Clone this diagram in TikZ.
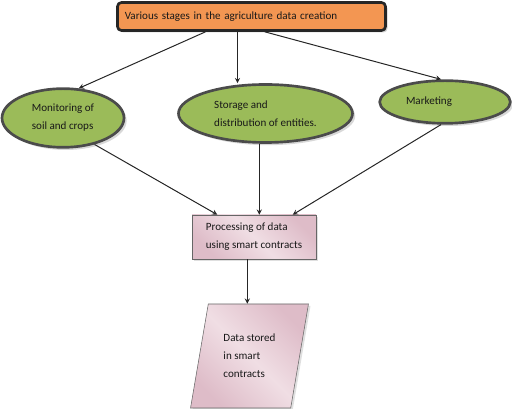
\documentclass[tikz,border=0pt]{standalone}
\usepackage{fontspec}
\setmainfont{Carlito}
\usepackage{xcolor}
\usepackage{tikz}
\usetikzlibrary{shapes.geometric, arrows, positioning, shadows, calc}

\definecolor{stageorange}{RGB}{243,150,82}
\definecolor{olivegreen}{RGB}{155,187,89}
\definecolor{rimgray}{RGB}{75,75,75}
\definecolor{pinklight}{RGB}{240,222,228}
\definecolor{pinkdark}{RGB}{222,188,200}

\begin{document}
\begin{tikzpicture}[
        x=0.75pt, y=-0.75pt,
        font=\fontsize{8.3}{13.5}\selectfont,
        text=black!90,
        stagebox/.style={rectangle, rounded corners=3pt, draw=black!85, line width=2pt, fill=stageorange,
            minimum width=201pt, minimum height=21pt, text width=190pt, align=left,
            drop shadow={shadow xshift=1.5pt, shadow yshift=-1.5pt, fill=gray!70}},
        blob/.style={ellipse, draw=rimgray, line width=2pt, fill=olivegreen, align=left, inner sep=0pt,
            drop shadow={shadow xshift=2pt, shadow yshift=-2pt, fill=gray!60}},
        procbox/.style={rectangle, draw=gray!80!black, thin, left color=pinkdark, right color=pinkdark,
            middle color=pinklight, shading angle=135, minimum width=93pt, minimum height=33pt, align=left,
            drop shadow={shadow xshift=1.5pt, shadow yshift=-1.5pt, fill=gray!50}},
        storebox/.style={trapezium, trapezium left angle=76, trapezium right angle=104, trapezium stretches=true,
            draw=gray!80!black, thin, left color=pinkdark, right color=pinkdark, middle color=pinklight,
            shading angle=135, minimum width=89pt, minimum height=78pt, align=left,
            drop shadow={shadow xshift=1.5pt, shadow yshift=-1.5pt, fill=gray!50}},
        arrow/.style={->, line width=0.75pt, black!85},
        >=stealth
    ]

    \useasboundingbox (0,0) rectangle (512,409);

    \node (stages) [stagebox] at (251.5,16.5) {Various stages in the agriculture data creation};

    \node (soil) [blob, minimum width=91.5pt, minimum height=44pt] at (63,118) {Monitoring of\\soil and crops};
    \node (store) [blob, minimum width=130.5pt, minimum height=43.5pt] at (265.5,113.5) {Storage and\\distribution of entities.};
    \node (market) [blob, minimum width=98pt, minimum height=32pt] at (445,102) {Marketing\hspace*{24pt}};

    \node (proc) [procbox] at (254,237) {Processing of data\\using smart contracts};
    \node (data) [storebox] at (249.5,356) {Data stored\\in smart\\contracts};

    % top box to the three stages
    \draw[arrow] ([xshift=-34.5pt]stages.south) -- (soil.62);
    \draw[arrow] ([xshift=-10.5pt]stages.south) -- ([xshift=-10.5pt]stages.south |- store.north);
    \draw[arrow] ([xshift=10pt]stages.south) -- (market.100);

    % stages to processing
    \draw[arrow] (soil.-40) -- ([xshift=-27.5pt]proc.north);
    \draw[arrow] ([xshift=4pt]proc.north |- store.south) -- ([xshift=4pt]proc.north);
    \draw[arrow] (market.-100) -- ([xshift=29pt]proc.north);

    \draw[arrow] ([xshift=-5pt]proc.south) -- ([xshift=-5pt]proc.south |- data.north);

\end{tikzpicture}
\end{document}
